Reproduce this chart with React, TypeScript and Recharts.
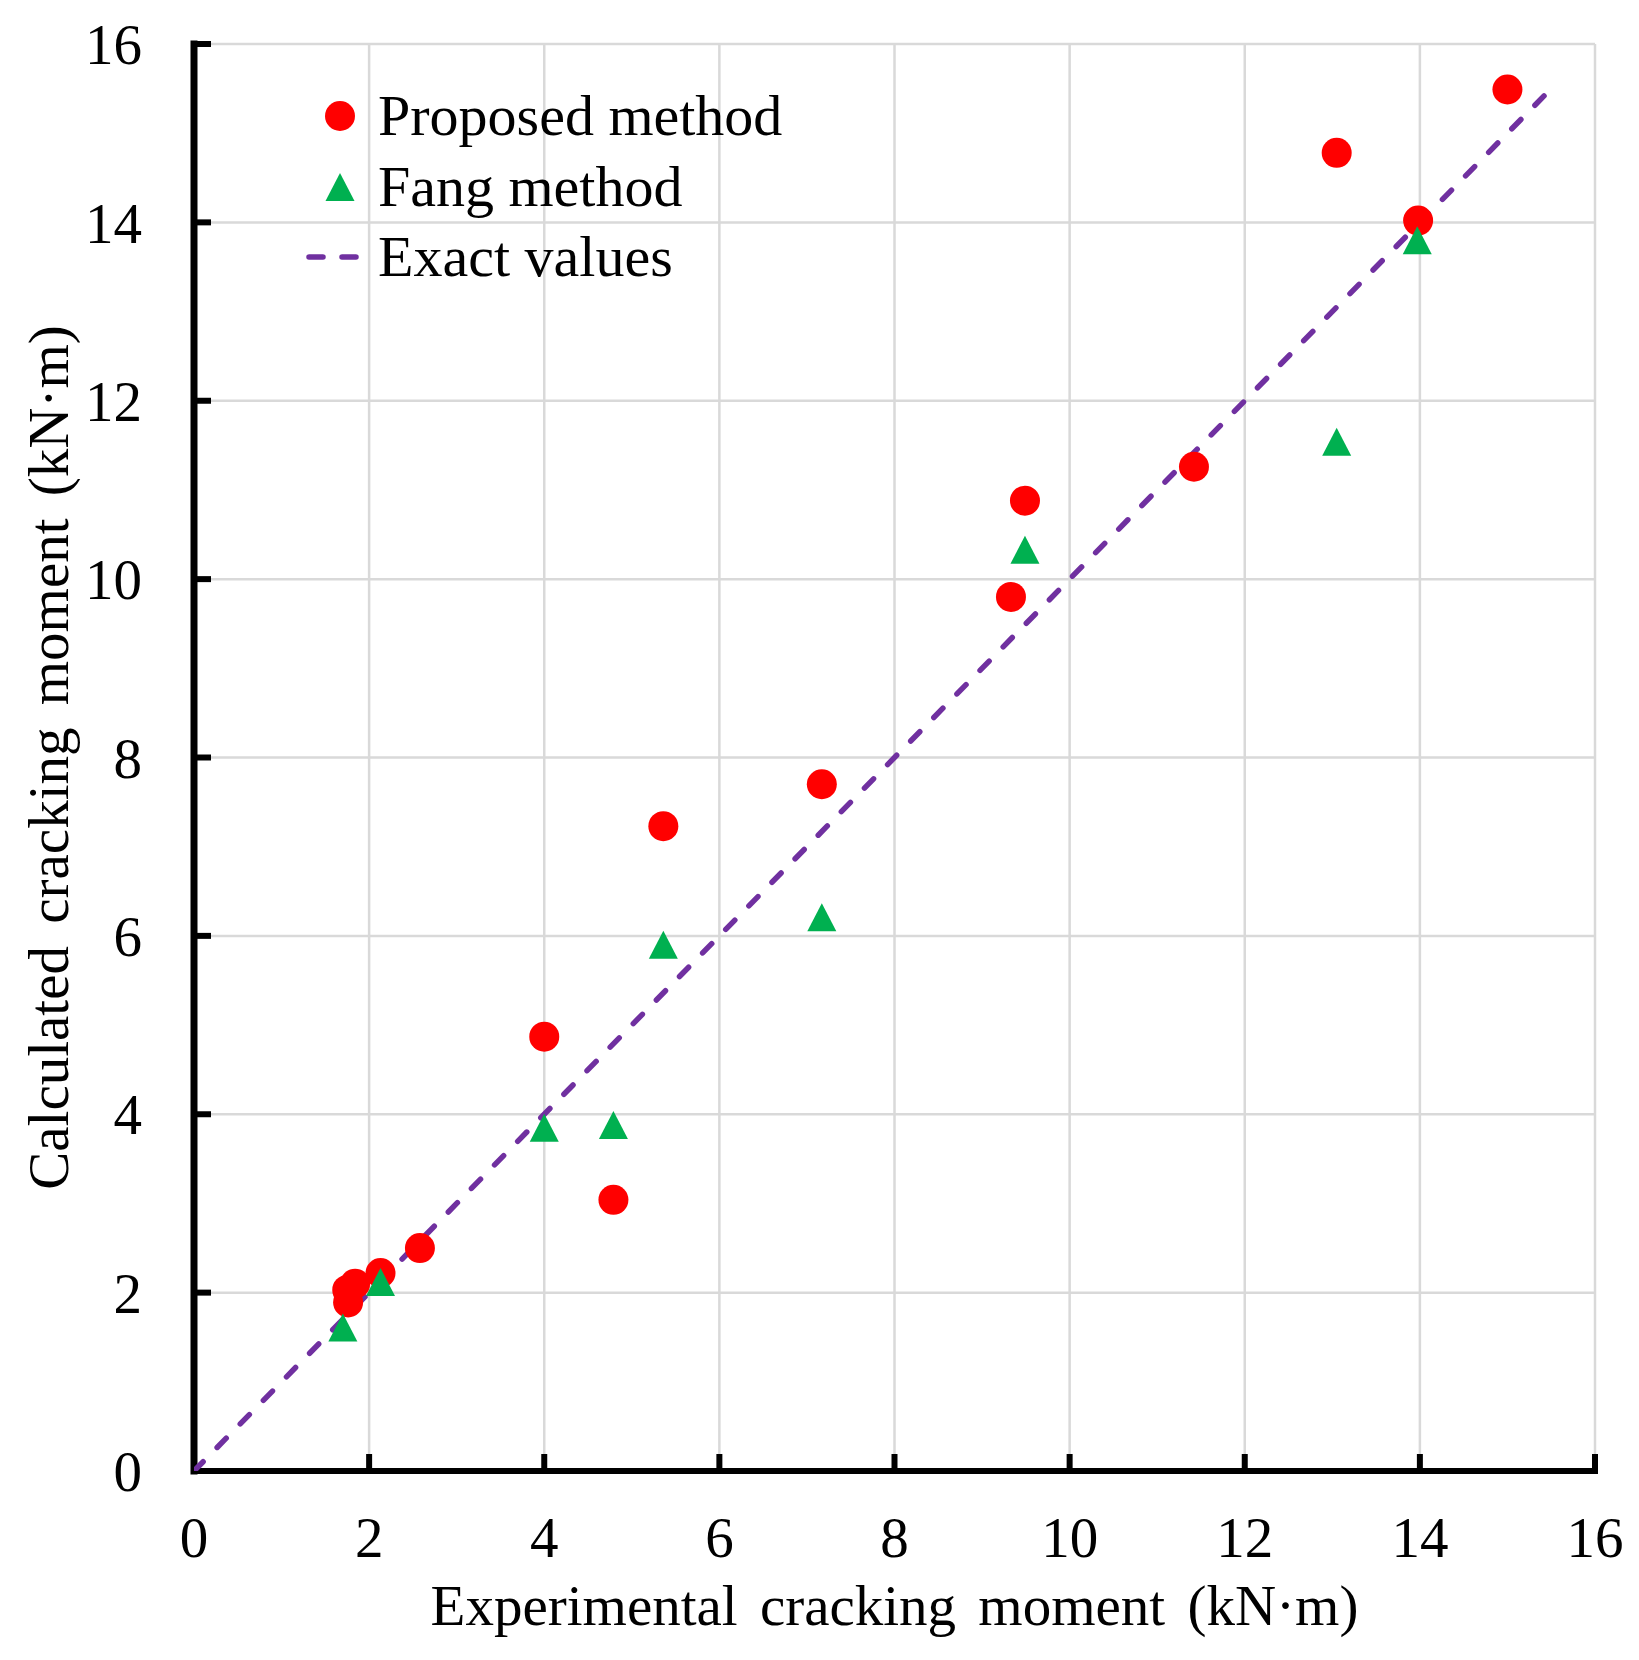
import { CartesianGrid, Label, Legend, Scatter, ScatterChart, XAxis, YAxis } from "recharts";

const FONT = "'Liberation Serif', 'Times New Roman', serif";
const RED = "#FF0000";
const GREEN = "#00B050";
const PURPLE = "#7030A0";

const axisTicks = [0, 2, 4, 6, 8, 10, 12, 14, 16];

// Proposed method (red circles)
const proposedX = [1.75, 1.76, 1.84, 2.13, 2.58, 4.0, 4.79, 5.36, 7.17, 9.33, 9.49, 11.42, 13.05, 13.98, 15.0];
const proposedY = [2.03, 1.89, 2.1, 2.22, 2.5, 4.87, 3.04, 7.23, 7.7, 9.8, 10.88, 11.26, 14.78, 14.02, 15.49];

// Fang method (green triangles)
const fangX = [1.7, 2.13, 4.0, 4.79, 5.36, 7.17, 9.49, 13.05, 13.97];
const fangY = [1.61, 2.12, 3.85, 3.88, 5.9, 6.21, 10.33, 11.54, 13.8];

// Exact values: y = x
const exactX = [0, 15.5];

const legendItems = [
  { name: "Proposed method", kind: "circle" },
  { name: "Fang method", kind: "triangle" },
  { name: "Exact values", kind: "dash" },
];

const proposedData = proposedX.map((x, i) => ({ x, y: proposedY[i] }));
const fangData = fangX.map((x, i) => ({ x, y: fangY[i] }));
const exactData = exactX.map((x) => ({ x, y: x }));

function CircleDot(props: any) {
  const { cx, cy } = props;
  return <circle cx={cx} cy={cy} r={15} fill={RED} />;
}

function TriangleDot(props: any) {
  const { cx, cy } = props;
  const w = 29;
  const h = 28;
  return (
    <polygon
      points={`${cx},${cy - h / 2} ${cx + w / 2},${cy + h / 2} ${cx - w / 2},${cy + h / 2}`}
      fill={GREEN}
    />
  );
}

function LegendIcon({ kind }: { kind: string }) {
  if (kind === "circle") return <circle cx={40} cy={35} r={15} fill={RED} />;
  if (kind === "triangle") return <polygon points="40,21 54.5,49 25.5,49" fill={GREEN} />;
  return (
    <line x1={9} y1={35} x2={56} y2={35} stroke={PURPLE} strokeWidth={5.5} strokeDasharray="14 19" strokeLinecap="round" />
  );
}

function LegendContent() {
  return (
    <div style={{ fontFamily: FONT, fontSize: 58, color: "#000" }}>
      {legendItems.map((item) => (
        <div key={item.name} style={{ display: "flex", alignItems: "center", height: 70.5, lineHeight: "70.5px" }}>
          <svg width={78} height={70} style={{ flex: "none" }}>
            <LegendIcon kind={item.kind} />
          </svg>
          <span style={{ whiteSpace: "nowrap" }}>{item.name}</span>
        </div>
      ))}
    </div>
  );
}

function XTitle(props: any) {
  const vb = props.viewBox || { x: 194, y: 1471, width: 1401, height: 189 };
  return (
    <text
      x={vb.x + vb.width / 2}
      y={vb.y + 154}
      textAnchor="middle"
      fontFamily={FONT}
      fontSize={57}
      fill="#000"
      style={{ wordSpacing: 8 }}
    >
      Experimental cracking moment (kN·m)
    </text>
  );
}

function YTitle(props: any) {
  const vb = props.viewBox || { x: 0, y: 44, width: 194, height: 1427 };
  const x = vb.x + 68;
  const y = vb.y + vb.height / 2;
  return (
    <text
      x={x}
      y={y}
      transform={`rotate(-90 ${x} ${y})`}
      textAnchor="middle"
      fontFamily={FONT}
      fontSize={57}
      fill="#000"
      style={{ wordSpacing: 8 }}
    >
      Calculated cracking moment (kN·m)
    </text>
  );
}

export default function App() {
  const tickStyle = { fill: "#000", fontSize: 57, fontFamily: FONT };
  return (
    <div style={{ position: "absolute", left: 0, top: 0, width: 1639, height: 1660, background: "#fff" }}>
      <ScatterChart
        width={1639}
        height={1660}
        margin={{ top: 44, right: 44, left: 0, bottom: 0 }}
        style={{ fontFamily: FONT }}
      >
        <CartesianGrid stroke="#d9d9d9" strokeWidth={2.5} />
        <XAxis
          dataKey="x"
          type="number"
          domain={[0, 16]}
          ticks={axisTicks}
          interval={0}
          allowDataOverflow
          height={189}
          tickSize={-17}
          tickMargin={63}
          axisLine={{ stroke: "#000", strokeWidth: 6, strokeLinecap: "square" }}
          tickLine={{ stroke: "#000", strokeWidth: 6 }}
          tick={tickStyle}
        >
          <Label content={XTitle} />
        </XAxis>
        <YAxis
          dataKey="y"
          type="number"
          domain={[0, 16]}
          ticks={axisTicks}
          interval={0}
          allowDataOverflow
          width={194}
          tickSize={-17}
          tickMargin={69}
          axisLine={{ stroke: "#000", strokeWidth: 7, strokeLinecap: "square" }}
          tickLine={{ stroke: "#000", strokeWidth: 6 }}
          tick={tickStyle}
        >
          <Label content={YTitle} />
        </YAxis>
        <Legend
          layout="vertical"
          align="center"
          verticalAlign="middle"
          content={LegendContent}
          wrapperStyle={{ left: 300, top: 81, width: 520 }}
        />
        <Scatter
          name="Exact values"
          data={exactData}
          line={{ stroke: PURPLE, strokeWidth: 5.5, strokeDasharray: "13 20", strokeLinecap: "round" }}
          shape={() => <g />}
          isAnimationActive={false}
        />
        <Scatter name="Proposed method" data={proposedData} shape={CircleDot} isAnimationActive={false} />
        <Scatter name="Fang method" data={fangData} shape={TriangleDot} isAnimationActive={false} />
      </ScatterChart>
    </div>
  );
}
